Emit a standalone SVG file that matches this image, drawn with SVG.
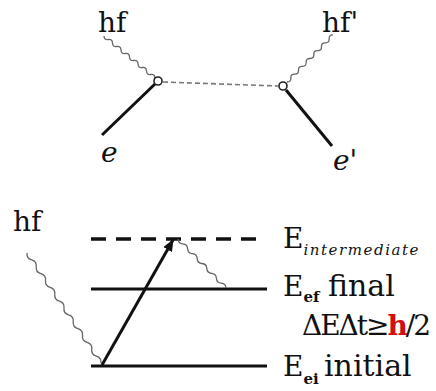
<svg xmlns="http://www.w3.org/2000/svg" width="436" height="391" viewBox="0 0 436 391">
<defs>
<style>
text{font-family:'DejaVu Serif','Liberation Serif',serif;fill:#111}
.big{font-size:28px}
.lab{font-size:28px}
.word{font-size:30px}
.sub{font-size:15px}
.wave{fill:none;stroke:#666;stroke-width:1.3}
.solid{fill:none;stroke:#111;stroke-width:3;stroke-linecap:butt}
.vtx{fill:#fff;stroke:#222;stroke-width:1.6}
</style>
<marker id="ah" markerUnits="userSpaceOnUse" markerWidth="12" markerHeight="10" refX="11" refY="5" orient="auto">
<path d="M0,0 L12,5 L0,10 z" fill="#111"/>
</marker>
</defs>
<rect width="436" height="391" fill="#fff"/>
<g id="feynman-left">
<text class="big" x="98" y="32">hf</text>
<text class="big" x="101" y="162" font-style="italic">e</text>
</g>
<g id="feynman-right">
<text class="big" x="322" y="32">hf'</text>
<text class="big" x="333" y="170" font-style="italic">e'</text>
</g>
<g id="level-intermediate">
<line x1="91" y1="239" x2="258" y2="239" stroke="#111" stroke-width="3.5" stroke-dasharray="15 10"/>
<text class="lab" x="283" y="248">E<tspan class="sub" dy="7" font-style="italic" textLength="115">intermediate</tspan></text>
</g>
<g id="level-final">
<line class="solid" x1="91" y1="289" x2="267" y2="289"/>
<text class="lab" x="283" y="296">E<tspan class="sub" dy="6" font-weight="bold">ef</tspan></text>
<text class="word" x="328" y="296">final</text>
<text class="lab" x="302" y="335" textLength="129">ΔEΔt≥<tspan fill="#d01010" font-weight="bold">h</tspan>/2</text>
</g>
<g id="level-initial">
<line class="solid" x1="91" y1="366" x2="267" y2="366"/>
<text class="lab" x="283" y="376">E<tspan class="sub" dy="8" font-weight="bold">ei</tspan></text>
<text class="word" x="324" y="376">initial</text>
</g>
<g id="photon-in">
<text class="big" x="13" y="231">hf</text>
</g>
<g id="connectors">
<path class="wave" d="M104,36 q0.21,4.07 4.25,3.5 t4.25,3.5 t4.25,3.5 t4.25,3.5 t4.25,3.5 t4.25,3.5 t4.25,3.5 t4.25,3.5 t4.25,3.5 t4.25,3.5 t4.25,3.5 t4.25,3.5"/>
<line class="solid" x1="155" y1="84" x2="102" y2="135"/>
<line x1="163" y1="82" x2="278" y2="86" stroke="#777" stroke-width="1.6" stroke-dasharray="5 3"/>
<circle class="vtx" cx="158" cy="81" r="4"/>
<path class="wave" d="M287,82 q4.06,0.14 3.83,-3.92 t3.83,-3.92 t3.83,-3.92 t3.83,-3.92 t3.83,-3.92 t3.83,-3.92 t3.83,-3.92 t3.83,-3.92 t3.83,-3.92 t3.83,-3.92 t3.83,-3.92 t3.83,-3.92"/>
<line class="solid" x1="286" y1="90" x2="332" y2="146"/>
<circle class="vtx" cx="283" cy="86" r="4"/>
<path class="wave" d="M27,253 q-0.59,5.39 4.625,6.875 t4.625,6.875 t4.625,6.875 t4.625,6.875 t4.625,6.875 t4.625,6.875 t4.625,6.875 t4.625,6.875 t4.625,6.875 t4.625,6.875 t4.625,6.875 t4.625,6.875 t4.625,6.875 t4.625,6.875 t4.625,6.875 t4.625,6.875"/>
<path class="wave" d="M178,239 q0.26,4.55 4.8,4.9 t4.8,4.9 t4.8,4.9 t4.8,4.9 t4.8,4.9 t4.8,4.9 t4.8,4.9 t4.8,4.9 t4.8,4.9 t4.8,4.9"/>
<line class="solid" x1="102" y1="365" x2="173" y2="240" marker-end="url(#ah)"/>
</g>
</svg>
